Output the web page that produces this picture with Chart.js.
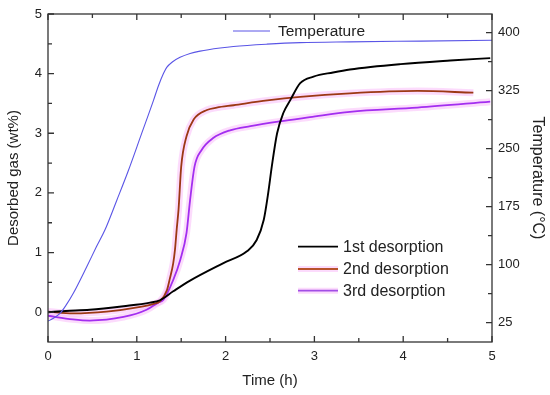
<!DOCTYPE html>
<html><head><meta charset="utf-8">
<script src="https://cdn.jsdelivr.net/npm/chart.js@4.4.1/dist/chart.umd.min.js"></script>
<style>html,body{margin:0;padding:0;background:#fff}#wrap{width:550px;height:395px}</style>
</head><body><div id="wrap"><canvas id="c" width="550" height="395"></canvas></div>
<script>
// Temperature (°C) vs time (h)
const tempTime = [0, 0.05, 0.135, 0.2, 0.285, 0.435, 0.545, 0.642, 0.774, 0.9, 1.05, 1.187, 1.243, 1.3, 1.337, 1.4, 1.487, 1.6, 1.713, 1.938, 2.088, 2.465, 2.84, 3.4, 4.2, 5.0];
const tempValues = [27, 30, 37, 47, 63, 97, 123, 145, 183, 220, 268, 312, 331, 347, 355, 362, 368, 373, 376, 380, 382, 385, 387, 388, 389, 390];
// 1st desorption (wt%)
const time1 = [0, 0.2, 0.47, 0.85, 1.15, 1.26, 1.41, 1.6, 1.97, 2.24, 2.35, 2.43, 2.48, 2.52, 2.58, 2.65, 2.73, 2.84, 2.99, 3.21, 3.40, 3.97, 4.53, 4.98];
const des1 = [0.0, 0.02, 0.04, 0.1, 0.16, 0.2, 0.35, 0.53, 0.82, 1.02, 1.21, 1.55, 2.0, 2.44, 3.0, 3.34, 3.56, 3.84, 3.95, 4.02, 4.07, 4.16, 4.22, 4.26];
// 2nd desorption (wt%)
const time2 = [0, 0.28, 0.66, 1.04, 1.19, 1.26, 1.34, 1.37, 1.41, 1.43, 1.45, 1.47, 1.5, 1.56, 1.64, 1.79, 1.9, 2.09, 2.47, 2.84, 3.4, 4.16, 4.79];
const des2 = [0.01, -0.02, 0.01, 0.09, 0.14, 0.18, 0.37, 0.55, 0.82, 1.05, 1.4, 1.72, 2.44, 2.95, 3.23, 3.39, 3.43, 3.47, 3.55, 3.61, 3.67, 3.71, 3.68];
// 3rd desorption (wt%)
const time3 = [0, 0.28, 0.47, 0.85, 1.11, 1.24, 1.30, 1.41, 1.49, 1.56, 1.60, 1.65, 1.73, 1.86, 2.05, 2.28, 2.61, 2.95, 3.40, 4.16, 4.98];
const des3 = [-0.06, -0.12, -0.14, -0.08, 0.04, 0.16, 0.21, 0.54, 0.88, 1.33, 1.88, 2.44, 2.72, 2.92, 3.05, 3.12, 3.2, 3.27, 3.36, 3.43, 3.53];

const xTicks = [0, 1, 2, 3, 4, 5];
const yTicks = [0, 1, 2, 3, 4, 5];
const tTicks = [25, 100, 175, 250, 325, 400];
const seriesNames = ['1st desorption', '2nd desorption', '3rd desorption'];
const tempName = 'Temperature';

const FONT = "'Liberation Sans', Arial, sans-serif";
const TXT = '#222';
const pairs = (xs, ys) => xs.map((x, i) => ({x, y: ys[i]}));

const C_TEMP = '#5a55e6', C1 = '#000000', C2 = '#9c3814', C3 = '#a32ef0';
const HALO = 'rgba(250,190,250,0.55)';

const framePlugin = {
  id: 'frame',
  afterDatasetsDraw(chart) {
    const {ctx, chartArea: a, scales} = chart;
    ctx.save();
    ctx.strokeStyle = '#333';
    ctx.lineWidth = 1.3;
    ctx.strokeRect(a.left, a.top, a.right - a.left, a.bottom - a.top);
    ctx.beginPath();
    for (let v = 0; v <= 5.001; v += 0.5) {
      const px = scales.x.getPixelForValue(v);
      const L = Math.abs(v - Math.round(v)) < 1e-6 ? 6 : 4;
      ctx.moveTo(px, a.bottom); ctx.lineTo(px, a.bottom - L);
      ctx.moveTo(px, a.top); ctx.lineTo(px, a.top + L);
    }
    for (let v = 0; v <= 5.001; v += 0.5) {
      const py = scales.y.getPixelForValue(v);
      const L = Math.abs(v - Math.round(v)) < 1e-6 ? 6 : 4;
      ctx.moveTo(a.left, py); ctx.lineTo(a.left + L, py);
    }
    for (let v = 25; v <= 424; v += 37.5) {
      const py = scales.y2.getPixelForValue(v);
      const major = Math.abs(((v - 25) / 75) - Math.round((v - 25) / 75)) < 1e-6;
      const L = major ? 6 : 4;
      ctx.moveTo(a.right, py); ctx.lineTo(a.right - L, py);
    }
    ctx.stroke();
    ctx.restore();
  },
  afterDraw(chart) {
    const {ctx, chartArea: a} = chart;
    ctx.save();
    ctx.textBaseline = 'middle';
    ctx.textAlign = 'left';
    ctx.strokeStyle = C_TEMP; ctx.lineWidth = 1;
    ctx.beginPath(); ctx.moveTo(a.left + 185, a.top + 17); ctx.lineTo(a.left + 222, a.top + 17); ctx.stroke();
    ctx.fillStyle = TXT;
    ctx.font = '15.5px ' + FONT;
    ctx.fillText(tempName, a.left + 230, a.top + 17.5);
    const cols = [C1, '#b8532c', '#a24ee6'];
    const rows = [a.top + 232.7, a.top + 255, a.top + 276.7];
    ctx.font = '16px ' + FONT;
    for (let i = 0; i < 3; i++) {
      if (i > 0) {
        ctx.strokeStyle = HALO; ctx.lineWidth = 6;
        ctx.beginPath(); ctx.moveTo(a.left + 250, rows[i]); ctx.lineTo(a.left + 290, rows[i]); ctx.stroke();
      }
      ctx.strokeStyle = cols[i]; ctx.lineWidth = 1.8;
      ctx.beginPath(); ctx.moveTo(a.left + 250, rows[i]); ctx.lineTo(a.left + 290, rows[i]); ctx.stroke();
      ctx.fillStyle = TXT;
      ctx.fillText(seriesNames[i], a.left + 295, rows[i] + 0.5);
    }
    ctx.restore();
  }
};

const lineDs = (label, data, color, width, axis, order) => ({
  label, data, borderColor: color, backgroundColor: color, borderWidth: width,
  pointRadius: 0, fill: false, tension: 0, cubicInterpolationMode: 'monotone',
  yAxisID: axis, order
});

new Chart(document.getElementById('c'), {
  type: 'line',
  data: {
    datasets: [
      lineDs('halo2', pairs(time2, des2), HALO, 7, 'y', 10),
      lineDs('halo3', pairs(time3, des3), HALO, 7, 'y', 10),
      lineDs(tempName, pairs(tempTime, tempValues), C_TEMP, 1.1, 'y2', 1),
      lineDs(seriesNames[2], pairs(time3, des3), C3, 1.8, 'y', 4),
      lineDs(seriesNames[1], pairs(time2, des2), C2, 1.8, 'y', 3),
      lineDs(seriesNames[0], pairs(time1, des1), C1, 1.9, 'y', 2)
    ]
  },
  options: {
    responsive: false,
    animation: false,
    layout: {padding: {top: 14, left: 0, right: 0, bottom: 0}},
    plugins: {legend: {display: false}, tooltip: {enabled: false}},
    scales: {
      x: {
        type: 'linear', min: 0, max: 5,
        afterBuildTicks: s => { s.ticks = xTicks.map(v => ({value: v})); },
        afterFit: s => { s.height = 53; },
        grid: {display: false, drawTicks: false}, border: {display: false},
        ticks: {color: TXT, font: {family: FONT, size: 13}, padding: 7, maxRotation: 0},
        title: {display: true, text: 'Time (h)', color: TXT, font: {family: FONT, size: 15}, padding: {top: 0, bottom: 5}}
      },
      y: {
        type: 'linear', position: 'left', min: -0.5, max: 5,
        afterBuildTicks: s => { s.ticks = yTicks.map(v => ({value: v})); },
        afterFit: s => { s.width = 48; },
        grid: {display: false, drawTicks: false}, border: {display: false},
        ticks: {color: TXT, font: {family: FONT, size: 13}, padding: 6},
        title: {display: true, text: 'Desorbed gas (wt%)', color: TXT, font: {family: FONT, size: 15}, padding: {top: 5, bottom: 0}}
      },
      y2: {
        type: 'linear', position: 'right', min: 0, max: 424,
        afterBuildTicks: s => { s.ticks = tTicks.map(v => ({value: v})); },
        afterFit: s => { s.width = 58; },
        grid: {display: false, drawTicks: false}, border: {display: false},
        ticks: {color: TXT, font: {family: FONT, size: 13}, padding: 6},
        title: {display: true, text: 'Temperature (°C)', color: TXT, font: {family: FONT, size: 16}, padding: {top: 2.5, bottom: 0}}
      }
    }
  },
  plugins: [framePlugin]
});
</script>
</body></html>
